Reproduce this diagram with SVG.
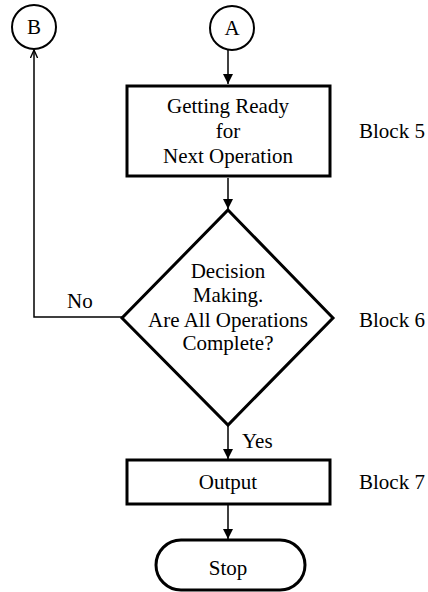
<svg xmlns="http://www.w3.org/2000/svg" width="428" height="592" viewBox="0 0 428 592">
<style>
text{font-family:"Liberation Serif","DejaVu Serif","Noto Serif",serif;font-size:21px;fill:#000}
.c{text-anchor:middle}
.shape{fill:#fff;stroke:#000;stroke-width:3}
.thin{fill:none;stroke:#000;stroke-width:2}
.line{fill:none;stroke:#000;stroke-width:1.5}
</style>
<defs>
<marker id="ah" viewBox="0 0 10 12" refX="10" refY="6" markerWidth="10" markerHeight="12" markerUnits="userSpaceOnUse" orient="auto">
<path d="M0,1 L10,6 L0,11 Z" fill="#000"/>
</marker>
<marker id="oa" viewBox="0 0 10 10" refX="9" refY="5" markerWidth="9" markerHeight="9" markerUnits="userSpaceOnUse" orient="auto">
<path d="M0,1 L9,5 L0,9" fill="none" stroke="#000" stroke-width="1.5"/>
</marker>
</defs>
<g id="connectors">
<line class="line" x1="228" y1="50" x2="228" y2="84" marker-end="url(#ah)"/>
<line class="line" x1="228" y1="178" x2="228" y2="209" marker-end="url(#ah)"/>
<polyline class="line" points="122,317 34,317 34,50" marker-end="url(#oa)"/>
<line class="line" x1="228" y1="426" x2="228" y2="459" marker-end="url(#ah)"/>
<line class="line" x1="228" y1="505" x2="228" y2="539" marker-end="url(#ah)"/>
<text x="67" y="308">No</text>
<text x="242" y="448">Yes</text>
</g>
<g id="connB">
<circle class="thin" cx="34" cy="27" r="22"/>
<text class="c" x="34" y="34">B</text>
</g>
<g id="connA">
<circle class="thin" cx="232" cy="28" r="22"/>
<text class="c" x="232" y="35">A</text>
</g>
<g id="block5">
<rect class="shape" x="127" y="86" width="203" height="90"/>
<text class="c" x="228" y="113">Getting Ready</text>
<text class="c" x="228" y="138">for</text>
<text class="c" x="228" y="163">Next Operation</text>
<text x="359" y="138">Block 5</text>
</g>
<g id="block6">
<polygon class="shape" points="228,210 333,318 228,425 122,318"/>
<text class="c" x="228" y="278">Decision</text>
<text class="c" x="228" y="302">Making.</text>
<text class="c" x="228" y="327">Are All Operations</text>
<text class="c" x="228" y="350">Complete?</text>
<text x="359" y="327">Block 6</text>
</g>
<g id="block7">
<rect class="shape" x="127" y="460" width="203" height="44"/>
<text class="c" x="228" y="489">Output</text>
<text x="359" y="489">Block 7</text>
</g>
<g id="stop">
<rect class="shape" x="156" y="540" width="149" height="50" rx="25" ry="25"/>
<text class="c" x="228" y="575">Stop</text>
</g>
</svg>
